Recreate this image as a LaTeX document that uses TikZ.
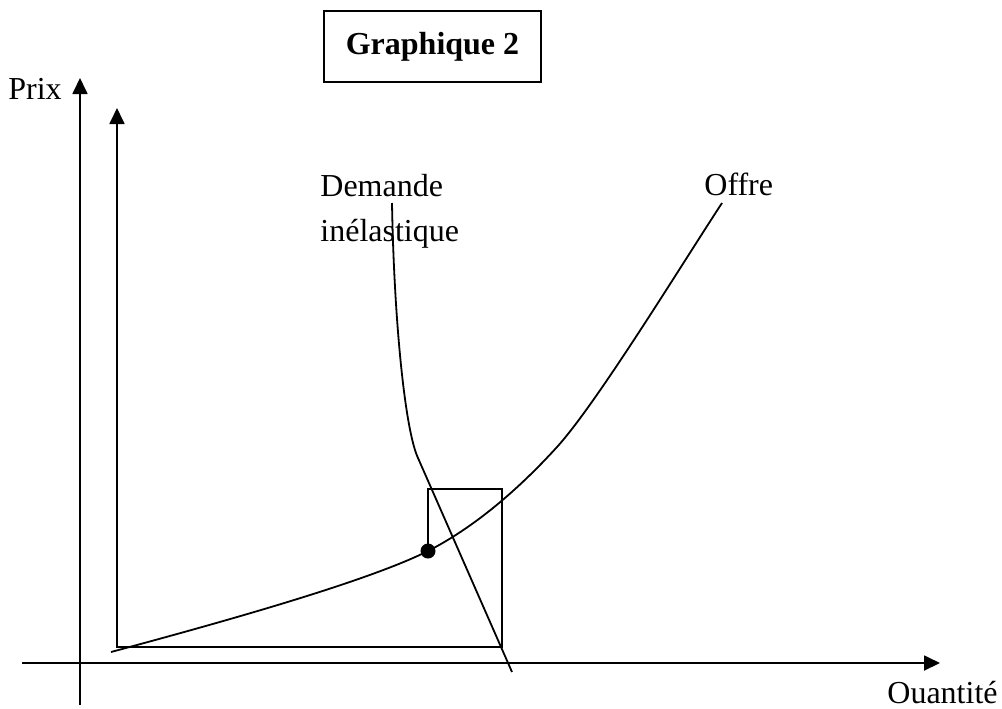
\documentclass[tikz,border=0pt]{standalone}
\usepackage{fontspec}
\setmainfont{Liberation Serif}
\usetikzlibrary{arrows.meta}
\tikzset{
  axe/.style={line width=0.9pt, -{Triangle[length=8pt,width=7.5pt]}},
  trait/.style={line width=0.9pt},
  etiq/.style={inner sep=0pt, anchor=base west, font=\fontsize{16}{22.5}\selectfont},
}
\begin{document}
\begin{tikzpicture}[x=0.5pt, y=-0.5pt]
  \useasboundingbox (0,0) rectangle (1002,708);
  % axes
  \coordinate (xdeb) at (22,663);
  \coordinate (xfin) at (940,663);
  \coordinate (ydeb) at (80,705);
  \coordinate (yfin) at (80,78);
  \draw[axe] (xdeb) -- (xfin);
  \draw[axe] (ydeb) -- (yfin);
  % cadre interieur
  \coordinate (eq) at (428,551);
  \coordinate (hg) at (428,489);
  \coordinate (hd) at (502,489);
  \coordinate (bd) at (502,647);
  \coordinate (o) at (117,647);
  \coordinate (ohaut) at (117,108);
  \draw[axe] (eq) -- (hg) -- (hd) -- (bd) -- (o) -- (ohaut);
  \fill (eq) circle (3.75pt);
  % offre
  \coordinate (o0) at (111,652);
  \coordinate (o1) at (557,447);
  \coordinate (o2) at (722,203);
  \draw[trait] (o0) .. controls (230,620) and (368,581) .. (eq)
    .. controls (473,528) and (517,491) .. (o1)
    .. controls (597,403) and (682,264) .. (o2);
  % demande
  \coordinate (d0) at (392,203);
  \coordinate (d1) at (418,458);
  \coordinate (d2) at (512,672);
  \draw[trait] (d0) .. controls (394,320) and (405,430) .. (d1) -- (d2);
  % textes
  \node[etiq] (prix) at (8,99) {Prix};
  \node[etiq] (qte) at (887,703) {Ouantité};
  \node[etiq] (offre) at (704,195) {Offre};
  \node[etiq] (dem) at (320,196) {Demande};
  \node[etiq] (inel) at (320,241) {inélastique};
  \node[draw, line width=0.9pt, minimum width=108.5pt, minimum height=35.5pt,
    font=\fontsize{16}{19}\selectfont\bfseries] (titre) at (432.5,46.5) {Graphique 2};
\end{tikzpicture}
\end{document}
